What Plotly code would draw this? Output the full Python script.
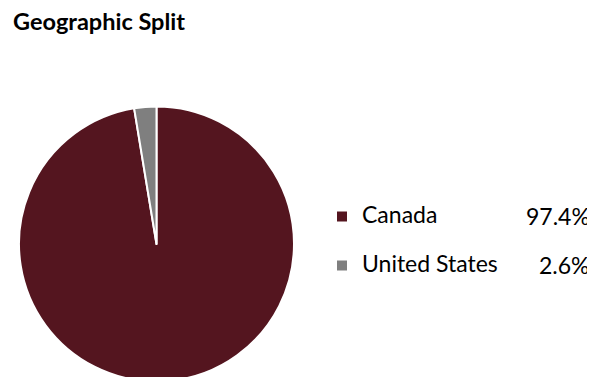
import plotly.graph_objects as go

title_text = "Geographic Split"
labels = ["Canada", "United States"]
values = [97.4, 2.6]
colors = ["#54151F", "#7F7F7F"]

W, H = 595, 377
OFF = 8  # page body margin
FONT = "Lato"

def px_x(p):
    return (p - OFF) / W

def px_y(p):
    return 1 - (p - OFF) / H

legend_names = [
    "<span style='font-size:23px'>%s</span><br> " % lab for lab in labels
]

fig = go.Figure()
fig.add_trace(go.Pie(
    labels=legend_names,
    values=values,
    marker=dict(colors=colors, line=dict(color="white", width=2)),
    sort=False,
    direction="clockwise",
    rotation=0,
    textinfo="none",
    hoverinfo="label+percent",
    domain=dict(x=[px_x(19), px_x(294)], y=[px_y(381.5), px_y(106.5)]),
))

row_y = [215.5, 264.5]
for v, yy in zip(values, row_y):
    fig.add_annotation(
        x=px_x(592), y=px_y(yy), xref="paper", yref="paper",
        xanchor="right", yanchor="middle", showarrow=False,
        text="%.1f%%" % v,
        font=dict(family=FONT, size=23, color="#000000"),
    )

fig.update_layout(
    width=W, height=H,
    margin=dict(l=0, r=0, t=0, b=0),
    paper_bgcolor="white", plot_bgcolor="white",
    title=dict(
        text="<b>%s</b>" % title_text,
        x=px_x(13), xanchor="left", xref="container",
        y=px_y(14), yanchor="top", yref="container",
        font=dict(family=FONT, size=23.5, color="#000000"),
    ),
    showlegend=True,
    legend=dict(
        x=px_x(322), xanchor="left",
        y=px_y(198.5), yanchor="top",
        font=dict(family=FONT, size=17.7, color="#000000"),
        valign="top",
        bgcolor="rgba(0,0,0,0)",
        itemclick=False, itemdoubleclick=False,
    ),
)

fig.write_html("out.html")
